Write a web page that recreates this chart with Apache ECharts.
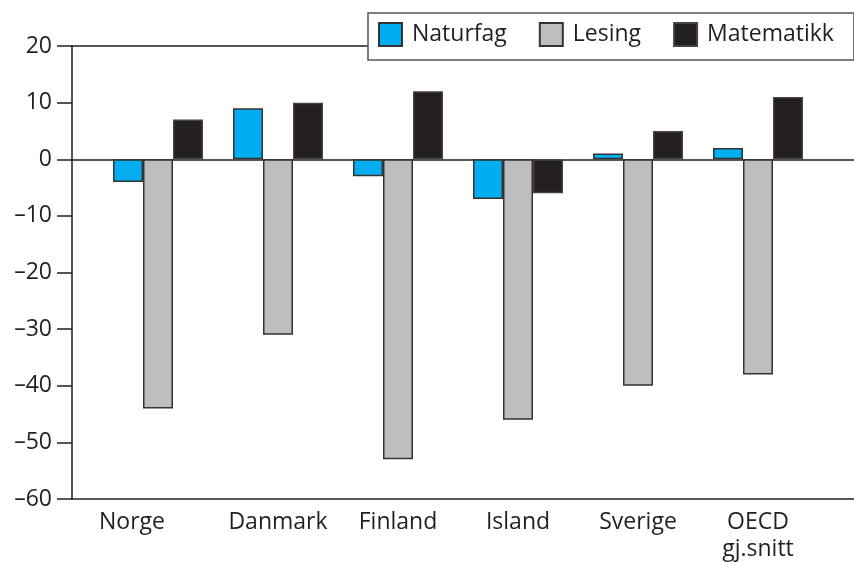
<!DOCTYPE html>
<html>
<head>
<meta charset="utf-8">
<script src="https://cdn.jsdelivr.net/npm/echarts@6/dist/echarts.min.js"></script>
<style>
  html, body { margin: 0; padding: 0; background: #fff; }
  #chart { width: 854px; height: 563px; }
</style>
</head>
<body>
<div id="chart"></div>
<script>
var categories = ["Norge", "Danmark", "Finland", "Island", "Sverige", "OECD\ngj.snitt"];
var naturfag = [-4, 9, -3, -7, 1, 2];
var lesing = [-44, -31, -53, -46, -40, -38];
var matematikk = [7, 10, 12, -6, 5, 11];

var font = "Open Sans";
var ink = "#231F20";
var fs = 23;

var chart = echarts.init(document.getElementById("chart"));

// frame grid, bar grid, and one more for the zero line
var box = { top: 46, height: 453 };
var option = {
  animation: false,
  textStyle: { fontFamily: font },
  legend: {
    data: ["Naturfag", "Lesing", "Matematikk"],
    left: 368,
    top: 13,
    padding: [9, 20, 13, 10],
    itemWidth: 23,
    itemHeight: 23,
    itemGap: 32,
    icon: "rect",
    borderColor: "#555",
    borderWidth: 1.5,
    backgroundColor: "#fff",
    textStyle: { fontSize: fs, color: ink, fontFamily: font, padding: [0, 0, 0, 5] },
  },
  grid: [
    { left: 72, width: 782, top: box.top, height: box.height, outerBoundsMode: "none" },
    { left: 98, width: 720, top: box.top, height: box.height, outerBoundsMode: "none" },
    { left: 72, width: 782, top: box.top, height: box.height, outerBoundsMode: "none" },
  ],
  xAxis: [
    {
      gridIndex: 0, type: "value", min: 0, max: 1, position: "bottom",
      axisLine: { show: true, onZero: false, lineStyle: { color: ink, width: 1.5 } },
      axisTick: { show: false }, axisLabel: { show: false }, splitLine: { show: false },
    },
    {
      gridIndex: 0, type: "value", min: 0, max: 1, position: "top",
      axisLine: { show: true, onZero: false, lineStyle: { color: ink, width: 1.5 } },
      axisTick: { show: false }, axisLabel: { show: false }, splitLine: { show: false },
    },
    {
      gridIndex: 1, type: "category", position: "bottom",
      data: categories.map(function (c) {
        if (c === "Norge") return { value: c, textStyle: { padding: [0, 52, 0, 0] } };
        return c;
      }),
      axisLine: { show: false, onZero: false },
      axisTick: { show: false },
      axisLabel: { interval: 0, hideOverlap: false, fontSize: fs, color: ink, fontFamily: font, margin: 10, lineHeight: 27 },
    },
    {
      gridIndex: 2, type: "value", min: 0, max: 1,
      axisLine: { show: true, lineStyle: { color: ink, width: 1.5 } },
      axisTick: { show: false }, axisLabel: { show: false }, splitLine: { show: false },
    },
  ],
  yAxis: [
    {
      gridIndex: 0, type: "value", min: -60, max: 20, interval: 10,
      axisLine: { show: true, lineStyle: { color: ink, width: 1.5 } },
      axisTick: { show: true, length: 15, lineStyle: { color: ink, width: 1.5 } },
      axisLabel: {
        fontSize: fs, color: ink, fontFamily: font, margin: 20,
        formatter: function (v) { return String(v).replace("-", "\u2013"); },
      },
      splitLine: { show: false },
    },
    { gridIndex: 1, type: "value", min: -60, max: 20, show: false },
    { gridIndex: 2, type: "value", min: -60, max: 20, show: false },
  ],
  series: [
    {
      name: "Naturfag", type: "bar", xAxisIndex: 2, yAxisIndex: 1,
      barWidth: 30, barGap: "0%",
      itemStyle: { color: "#00AEEF", borderColor: "#333", borderWidth: 1.5 },
      data: naturfag,
    },
    {
      name: "Lesing", type: "bar", xAxisIndex: 2, yAxisIndex: 1,
      barWidth: 30, barGap: "0%",
      itemStyle: { color: "#BCBEC0", borderColor: "#333", borderWidth: 1.5 },
      data: lesing,
    },
    {
      name: "Matematikk", type: "bar", xAxisIndex: 2, yAxisIndex: 1,
      barWidth: 30, barGap: "0%",
      itemStyle: { color: ink, borderColor: "#444", borderWidth: 1.5 },
      data: matematikk,
    },
  ],
};

chart.setOption(option);
</script>
</body>
</html>
